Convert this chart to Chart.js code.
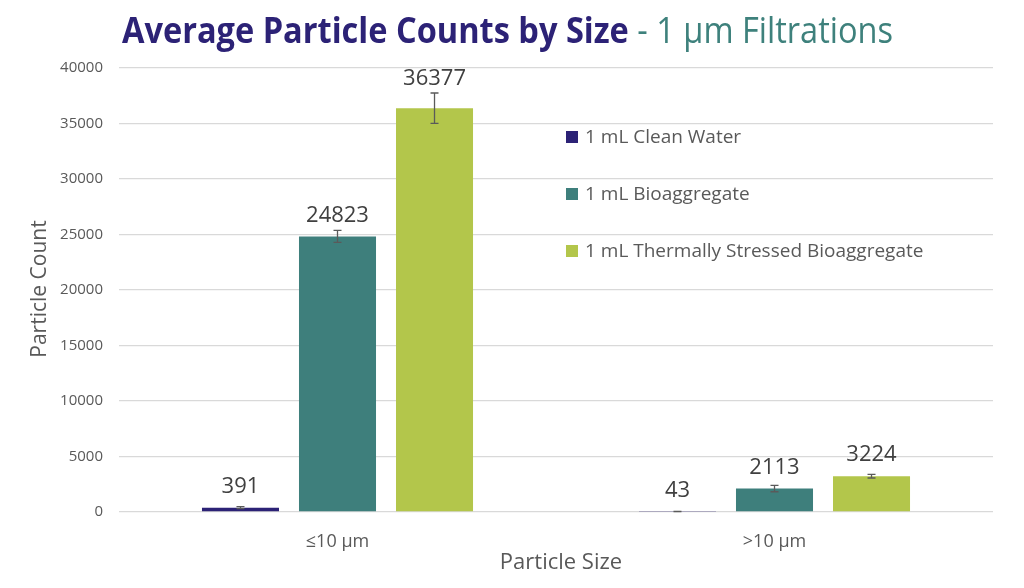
<!DOCTYPE html>
<html><head><meta charset="utf-8">
<script src="https://cdn.jsdelivr.net/npm/chart.js@4"></script>
<style>html,body{margin:0;padding:0;background:#fff;}#wrap{width:1024px;height:588px;}</style>
</head><body><div id="wrap"><canvas id="c" width="1024" height="588"></canvas></div>
<script>
const categories = ['≤10 µm', '>10 µm'];
const seriesNames = ['1 mL Clean Water', '1 mL Bioaggregate', '1 mL Thermally Stressed Bioaggregate'];
const cleanWater = [391, 43];
const bioaggregate = [24823, 2113];
const thermallyStressed = [36377, 3224];
const cleanWaterErr = [90, 15];
const bioaggregateErr = [540, 290];
const thermallyStressedErr = [1370, 160];
const yMin = 0, yMax = 40000, yStep = 5000;
const titleBold = 'Average Particle Counts by Size';
const titleRest = ' - 1 µm Filtrations';
const xTitle = 'Particle Size';
const yTitle = 'Particle Count';

const colors = ['#2c2276', '#3e7f7c', '#b3c64b'];
const FONT = '"Open Sans", sans-serif';
const errs = [cleanWaterErr, bioaggregateErr, thermallyStressedErr];

const overlay = {
  id: 'overlay',
  afterDatasetsDraw(chart) {
    const ctx = chart.ctx, y = chart.scales.y;
    ctx.save();
    chart.data.datasets.forEach((ds, di) => {
      const meta = chart.getDatasetMeta(di);
      meta.data.forEach((el, i) => {
        const v = ds.data[i], e = errs[di][i];
        const t = y.getPixelForValue(v + e), b = y.getPixelForValue(Math.max(0, v - e));
        ctx.strokeStyle = '#5a5a5a'; ctx.lineWidth = 1.3;
        ctx.beginPath();
        ctx.moveTo(el.x, t); ctx.lineTo(el.x, b);
        ctx.moveTo(el.x - 4, t); ctx.lineTo(el.x + 4, t);
        ctx.moveTo(el.x - 4, b); ctx.lineTo(el.x + 4, b);
        ctx.stroke();
      });
    });
    ctx.fillStyle = '#404040';
    ctx.font = '22px ' + FONT;
    ctx.textAlign = 'center'; ctx.textBaseline = 'middle';
    chart.data.datasets.forEach((ds, di) => {
      const meta = chart.getDatasetMeta(di);
      meta.data.forEach((el, i) => {
        const v = ds.data[i], e = errs[di][i];
        const t = y.getPixelForValue(v + e);
        const ly = Math.min(el.y - 21, t - 14);
        ctx.fillText(String(v), el.x, ly);
      });
    });
    const rows = [137, 194, 251];
    ctx.font = '19px ' + FONT;
    ctx.textAlign = 'left';
    chart.data.datasets.forEach((ds, di) => {
      ctx.fillStyle = ds.backgroundColor;
      ctx.fillRect(566, rows[di] - 6, 12, 12);
      ctx.fillStyle = '#595959';
      ctx.fillText(ds.label, 585, rows[di] + 1);
    });
    ctx.restore();
  },
  afterDraw(chart) {
    const ctx = chart.ctx;
    ctx.save();
    const fb = 'bold 36px ' + FONT, fr = '36px ' + FONT;
    ctx.font = fb; const wb = ctx.measureText(titleBold).width;
    ctx.font = fr; const wr = ctx.measureText(titleRest).width;
    const sx = 771 / (wb + wr);
    ctx.translate(122, 43); ctx.scale(sx, 1);
    ctx.textBaseline = 'alphabetic'; ctx.textAlign = 'left';
    ctx.font = fb; ctx.fillStyle = '#2c2276'; ctx.fillText(titleBold, 0, 0);
    ctx.font = fr; ctx.fillStyle = '#3e817c'; ctx.fillText(titleRest, wb, 0);
    ctx.restore();
    ctx.save();
    ctx.fillStyle = '#595959';
    ctx.textAlign = 'center'; ctx.textBaseline = 'middle';
    ctx.font = '22px ' + FONT;
    ctx.fillText(xTitle, 561, 563);
    ctx.font = '21px ' + FONT;
    ctx.translate(40, 289); ctx.rotate(-Math.PI / 2);
    ctx.fillText(yTitle, 0, 0);
    ctx.restore();
  }
};

const datasets = [cleanWater, bioaggregate, thermallyStressed].map((d, i) => ({
  label: seriesNames[i], data: d, backgroundColor: colors[i],
  categoryPercentage: 0.666, barPercentage: 0.794
}));

new Chart(document.getElementById('c'), {
  type: 'bar',
  data: { labels: categories, datasets },
  options: {
    responsive: false, animation: false, devicePixelRatio: 1,
    layout: { padding: { top: 68, right: 31, left: 0, bottom: 0 } },
    plugins: { legend: { display: false }, title: { display: false }, tooltip: { enabled: false } },
    scales: {
      x: {
        grid: { display: false }, border: { display: false },
        ticks: { color: '#595959', font: { family: FONT, size: 18 }, padding: 11 },
        afterFit(s) { s.height = 76; }
      },
      y: {
        min: yMin, max: yMax,
        ticks: { stepSize: yStep, color: '#595959', font: { family: FONT, size: 15 }, padding: 16,
                 callback: v => String(v) },
        grid: { color: '#d9d9d9', lineWidth: 1.3, drawTicks: false }, border: { display: false },
        afterFit(s) { s.width = 119; }
      }
    }
  },
  plugins: [overlay]
});
</script></body></html>
